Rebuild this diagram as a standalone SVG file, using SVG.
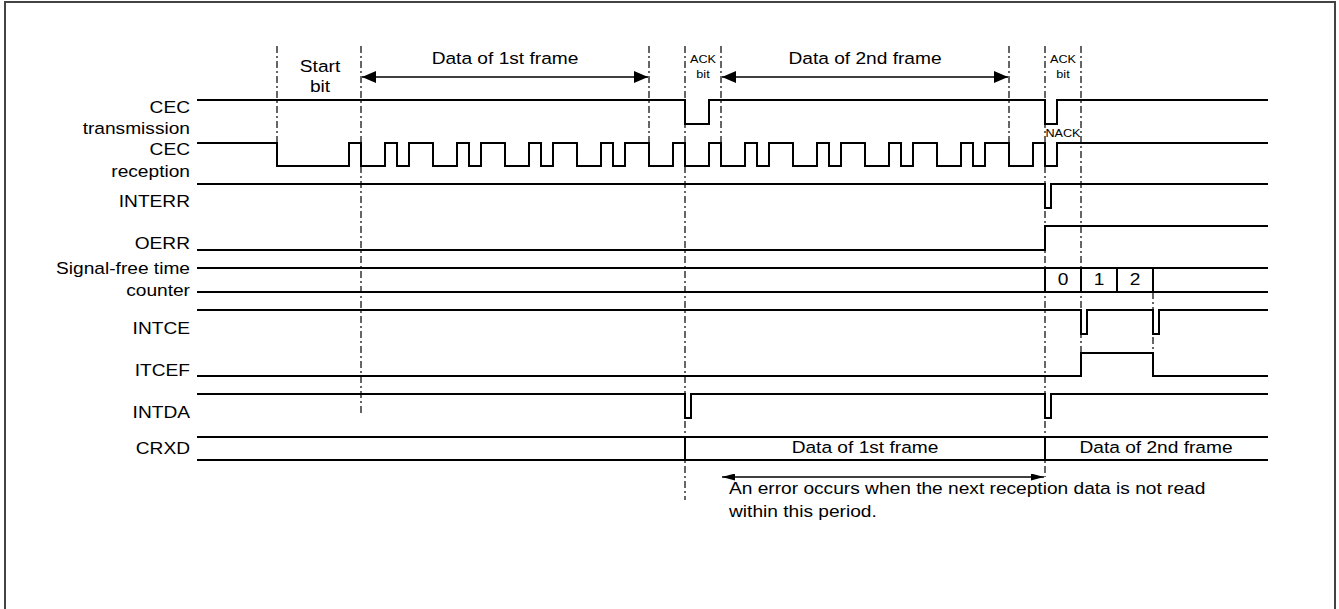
<svg xmlns="http://www.w3.org/2000/svg" width="1339" height="609" viewBox="0 0 1339 609">
<style>
.sig{fill:none;stroke:#000;stroke-width:2;stroke-linejoin:miter;stroke-linecap:square}
.guide{fill:none;stroke:#000;stroke-width:1.2;stroke-dasharray:7 3 2 3}
.arr{fill:none;stroke:#000;stroke-width:1.4}
.t{font-family:"Liberation Sans",Arial,sans-serif;font-size:17.4px;fill:#000}
.s{font-family:"Liberation Sans",Arial,sans-serif;font-size:11.5px;fill:#000}
.e{text-anchor:end}
.m{text-anchor:middle}
</style>
<defs>
<marker id="ah" viewBox="0 0 14 12" refX="14" refY="6" markerWidth="14" markerHeight="12" markerUnits="userSpaceOnUse" orient="auto-start-reverse">
<path d="M0,0 L14,6 L0,12 Z" fill="#000"/>
</marker>
<marker id="ahs" viewBox="0 0 13 7" refX="13" refY="3.5" markerWidth="13" markerHeight="7" markerUnits="userSpaceOnUse" orient="auto-start-reverse">
<path d="M0,0 L13,3.5 L0,7 Z" fill="#000"/>
</marker>
</defs>
<rect x="5" y="2" width="1330" height="620" fill="#fff" stroke="#444" stroke-width="2"/>

<g id="connectors">
<line class="guide" x1="277" y1="46" x2="277" y2="166"/>
<line class="guide" x1="361" y1="46" x2="361" y2="416"/>
<line class="guide" x1="649" y1="46" x2="649" y2="166"/>
<line class="guide" x1="685" y1="46" x2="685" y2="500"/>
<line class="guide" x1="721" y1="46" x2="721" y2="166"/>
<line class="guide" x1="1009" y1="46" x2="1009" y2="166"/>
<line class="guide" x1="1045" y1="46" x2="1045" y2="477"/>
<line class="guide" x1="1081" y1="46" x2="1081" y2="374"/>
<line class="guide" x1="1153" y1="292" x2="1153" y2="374"/>
<line class="arr" x1="362" y1="77" x2="648" y2="77" marker-start="url(#ah)" marker-end="url(#ah)"/>
<line class="arr" x1="722" y1="77" x2="1008" y2="77" marker-start="url(#ah)" marker-end="url(#ah)"/>
<line class="arr" x1="722" y1="477" x2="1044" y2="477" marker-start="url(#ahs)" marker-end="url(#ahs)"/>
</g>

<g id="headers">
<text class="t m" transform="translate(320,72) scale(1.1,1)">Start</text>
<text class="t m" transform="translate(320,92) scale(1.1,1)">bit</text>
<text class="t m" transform="translate(505,64) scale(1.1,1)">Data of 1st frame</text>
<text class="t m" transform="translate(865,64) scale(1.1,1)">Data of 2nd frame</text>
<text class="s m" transform="translate(703,63) scale(1.1,1)">ACK</text>
<text class="s m" transform="translate(703,78) scale(1.1,1)">bit</text>
<text class="s m" transform="translate(1063,63) scale(1.1,1)">ACK</text>
<text class="s m" transform="translate(1063,78) scale(1.1,1)">bit</text>
</g>

<g id="cec-transmission">
<text class="t e" transform="translate(190,113) scale(1.1,1)">CEC</text>
<text class="t e" transform="translate(190,134) scale(1.1,1)">transmission</text>
<path class="sig" d="M198,100 H685 V124 H709 V100 H1045 V124 H1057 V100 H1267"/>
</g>

<g id="cec-reception">
<text class="t e" transform="translate(190,155) scale(1.1,1)">CEC</text>
<text class="t e" transform="translate(190,177) scale(1.1,1)">reception</text>
<path class="sig" d="M198,143 H277 V166 H349 V143 H361 V166 H385 V143 H397 V166 H409 V143 H433 V166 H457 V143 H469 V166 H481 V143 H505 V166 H529 V143 H541 V166 H553 V143 H577 V166 H601 V143 H613 V166 H625 V143 H649 V166 H673 V143 H685 V166 H709 V143 H721 V166 H745 V143 H757 V166 H769 V143 H793 V166 H817 V143 H829 V166 H841 V143 H865 V166 H889 V143 H901 V166 H913 V143 H937 V166 H961 V143 H973 V166 H985 V143 H1009 V166 H1033 V143 H1045 V166 H1057 V143 H1267"/>
<text class="s m" transform="translate(1063,137) scale(1.1,1)">NACK</text>
</g>

<g id="interr">
<text class="t e" transform="translate(190,207) scale(1.1,1)">INTERR</text>
<path class="sig" d="M198,184 H1045 V208 H1051 V184 H1267"/>
</g>

<g id="oerr">
<text class="t e" transform="translate(190,249) scale(1.1,1)">OERR</text>
<path class="sig" d="M198,250 H1045 V226 H1267"/>
</g>

<g id="signal-free-counter">
<text class="t e" transform="translate(190,274) scale(1.1,1)">Signal-free time</text>
<text class="t e" transform="translate(190,296) scale(1.1,1)">counter</text>
<path class="sig" d="M198,268 H1267 M198,292 H1267 M1045,268 V292 M1081,268 V292 M1117,268 V292 M1153,268 V292"/>
<text class="t m" transform="translate(1063,285) scale(1.1,1)">0</text>
<text class="t m" transform="translate(1099,285) scale(1.1,1)">1</text>
<text class="t m" transform="translate(1135,285) scale(1.1,1)">2</text>
</g>

<g id="intce">
<text class="t e" transform="translate(190,334) scale(1.1,1)">INTCE</text>
<path class="sig" d="M198,310 H1081 V334 H1087 V310 H1153 V334 H1159 V310 H1267"/>
</g>

<g id="itcef">
<text class="t e" transform="translate(190,376) scale(1.1,1)">ITCEF</text>
<path class="sig" d="M198,376 H1081 V353 H1153 V376 H1267"/>
</g>

<g id="intda">
<text class="t e" transform="translate(190,418) scale(1.1,1)">INTDA</text>
<path class="sig" d="M198,394 H685 V418 H691 V394 H1045 V418 H1051 V394 H1267"/>
</g>

<g id="crxd">
<text class="t e" transform="translate(190,454) scale(1.1,1)">CRXD</text>
<path class="sig" d="M198,437 H1267 M198,460 H1267 M685,437 V460 M1045,437 V460"/>
<text class="t m" transform="translate(865,453) scale(1.1,1)">Data of 1st frame</text>
<text class="t m" transform="translate(1156,453) scale(1.1,1)">Data of 2nd frame</text>
</g>

<g id="note">
<text class="t" transform="translate(729,494) scale(1.1,1)">An error occurs when the next reception data is not read</text>
<text class="t" transform="translate(729,517) scale(1.1,1)">within this period.</text>
</g>
</svg>
